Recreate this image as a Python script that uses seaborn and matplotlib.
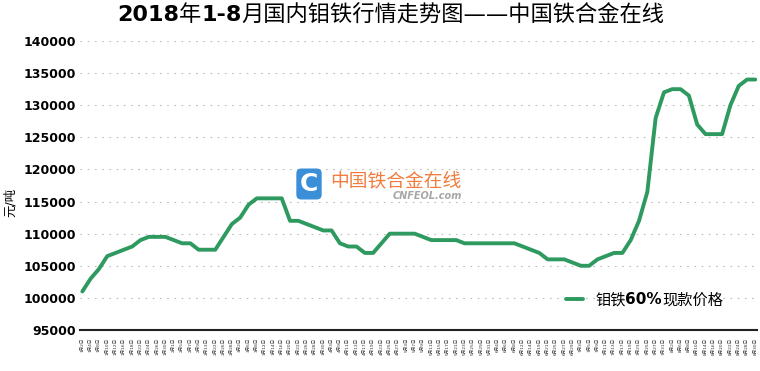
import matplotlib
matplotlib.use('Agg')
import matplotlib.pyplot as plt
import seaborn as sns

# 钼铁60%现款价格 (元/吨), one value per labelled trading day
price = [101000, 103000, 104500, 106500, 107000, 107500, 108000, 109000, 109500, 109500,
         109500, 109000, 108500, 108500, 107500, 107500, 107500, 109500, 111500, 112500,
         114500, 115500, 115500, 115500, 115500, 112000, 112000, 111500, 111000, 110500,
         110500, 108500, 108000, 108000, 107000, 107000, 108500, 110000, 110000, 110000,
         110000, 109500, 109000, 109000, 109000, 109000, 108500, 108500, 108500, 108500,
         108500, 108500, 108500, 108000, 107500, 107000, 106000, 106000, 106000, 105500,
         105000, 105000, 106000, 106500, 107000, 107000, 109000, 112000, 116500, 128000,
         132000, 132500, 132500, 131500, 127000, 125500, 125500, 125500, 130000, 133000,
         134000, 134000]

dates = ['1月2日', '1月4日', '1月8日', '1月10日', '1月12日', '1月16日', '1月18日', '1月22日',
         '1月24日', '1月26日', '1月30日',
         '2月1日', '2月5日', '2月7日', '2月9日', '2月13日', '2月22日', '2月26日', '2月28日',
         '3月2日', '3月6日', '3月8日', '3月12日', '3月14日', '3月16日', '3月20日', '3月22日',
         '3月26日', '3月28日', '3月30日',
         '4月3日', '4月9日', '4月11日', '4月13日', '4月17日', '4月19日', '4月23日', '4月25日',
         '4月27日',
         '5月3日', '5月7日', '5月9日', '5月11日', '5月15日', '5月17日', '5月21日', '5月23日',
         '5月25日', '5月29日', '5月31日',
         '6月4日', '6月6日', '6月8日', '6月12日', '6月14日', '6月19日', '6月21日', '6月25日',
         '6月27日', '6月29日',
         '7月3日', '7月5日', '7月9日', '7月11日', '7月13日', '7月17日', '7月19日', '7月23日',
         '7月25日', '7月27日', '7月31日',
         '8月2日', '8月6日', '8月8日', '8月10日', '8月14日', '8月16日', '8月20日', '8月22日',
         '8月24日', '8月28日', '8月30日']

y_ticks = [95000, 100000, 105000, 110000, 115000, 120000, 125000, 130000, 135000, 140000]

title_runs = [('2018', 'bold'), ('年', 'normal'), ('1-8', 'bold'),
              ('月国内钼铁行情走势图——中国铁合金在线', 'normal')]
legend_runs = [('钼铁', 'normal'), ('60%', 'bold'), ('现款价格', 'normal')]
series_name = '钼铁60%现款价格'

FAM = ['DejaVu Sans', 'Noto Sans CJK SC']
GREEN = '#2e9a60'

sns.set_style('white')
plt.rcParams['font.family'] = FAM
plt.rcParams['text.color'] = 'black'
plt.rcParams['axes.labelcolor'] = 'black'
plt.rcParams['ytick.color'] = 'black'


def draw_runs(fig, x0, y, runs, size, center=True):
    # draw text pieces side by side so weights can be mixed
    fig.canvas.draw()
    r = fig.canvas.get_renderer()
    W = fig.get_figwidth() * fig.dpi
    items = []
    for s, w in runs:
        t = fig.text(0, y, s, fontsize=size, fontweight=w, family=FAM, color='black', va='center')
        items.append((t, t.get_window_extent(r).width))
    x = x0 * W
    if center:
        x -= sum(wd for _, wd in items) / 2
    for t, wd in items:
        t.set_x(x / W)
        x += wd


fig = plt.figure(figsize=(7.6, 3.71), dpi=100)
ax = fig.add_axes([80 / 760, 41 / 371, 677 / 760, 289 / 371])

xs = list(range(len(price)))
sns.lineplot(x=xs, y=price, ax=ax, color=GREEN, linewidth=2.8, label=series_name)

ax.set_ylim(95000, 140000)
ax.set_xlim(-0.28, len(price) - 0.8)
ax.set_yticks(y_ticks)
ax.set_yticklabels([str(v) for v in y_ticks], fontsize=9, fontweight='bold', family='DejaVu Sans')
ax.tick_params(axis='y', length=0, pad=3)
ax.set_xticks(xs)
ax.set_xticklabels(dates, rotation=90, fontsize=3.2, color='#333333')
ax.tick_params(axis='x', length=4, width=1.2, color='#222222', pad=1.5)

ax.grid(axis='y', color='#bdbdbd', linestyle=(0, (1.5, 5)), linewidth=0.8)
for side in ['left', 'right', 'top']:
    ax.spines[side].set_visible(False)
ax.spines['bottom'].set_color('#222222')
ax.spines['bottom'].set_linewidth(1.5)
ax.set_xlabel('')
ax.set_ylabel('元/吨', fontsize=9, family=FAM)
ax.yaxis.set_label_coords(-0.093, 0.44)

# legend: handle from seaborn, text drawn in runs to keep "60%" bold
leg = ax.legend(loc='center left', bbox_to_anchor=(566 / 760, 1 - 300 / 371),
                bbox_transform=fig.transFigure, frameon=False, borderpad=0,
                borderaxespad=0, handlelength=1.1, handletextpad=0.75,
                prop={'family': FAM, 'size': 11})
leg.get_texts()[0].set_alpha(0)

# watermark
fig.text(309 / 760, 1 - 184 / 371, 'C', fontsize=18, fontweight='bold', color='white',
         family='DejaVu Sans', ha='center', va='center',
         bbox=dict(boxstyle='round,pad=0.14,rounding_size=0.2', fc='#3b8fd8', ec='none'))
fig.text(330 / 760, 1 - 181 / 371, '中国铁合金在线', fontsize=13.5, color='#f07d3e',
         family=FAM, ha='left', va='center')
fig.text(462 / 760, 1 - 196 / 371, 'CNFEOL.com', fontsize=7, color='#a6a6a6',
         style='italic', fontweight='bold', family='DejaVu Sans', ha='right', va='center')

draw_runs(fig, 391 / 760, 1 - 15 / 371, title_runs, 16)
draw_runs(fig, 595 / 760, 1 - 300 / 371, legend_runs, 11, center=False)

fig.savefig('out.png', dpi=100)
